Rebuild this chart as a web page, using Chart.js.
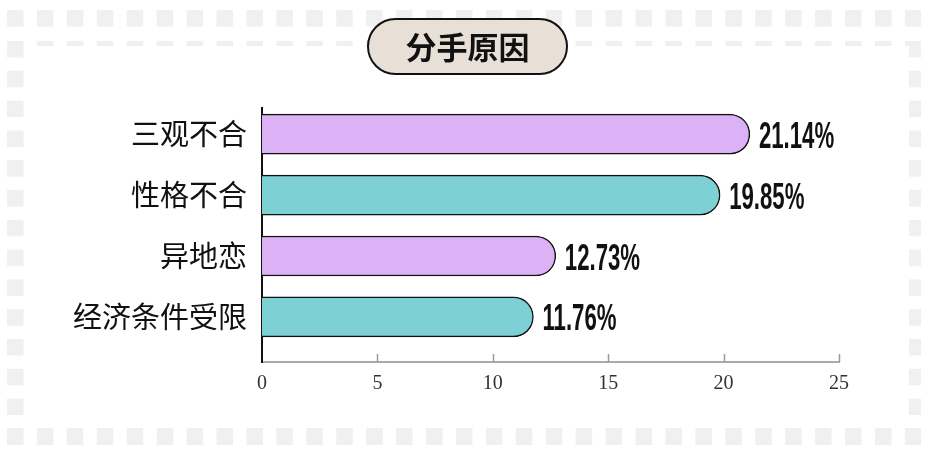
<!DOCTYPE html>
<html lang="zh">
<head>
  <meta charset="UTF-8" />
  <title>分手原因</title>
  <script src="https://cdn.jsdelivr.net/npm/chart.js"></script>
  <style>
    html, body { margin: 0; padding: 0; background: #fff; }
    .wrap { position: relative; width: 928px; height: 451px; overflow: hidden; }
    #chart { position: absolute; left: 0; top: 0; }
    .title {
      position: absolute;
      left: 367px; top: 18px;
      width: 201px; height: 57px;
      box-sizing: border-box;
      border: 2px solid #111;
      border-radius: 29px;
      background: #e8dfd7;
      color: #111;
      font-family: "Noto Sans CJK SC", sans-serif;
      font-weight: 700;
      font-size: 31px;
      line-height: 52px;
      text-align: center;
    }
  </style>
</head>
<body>
  <div class="wrap">
    <canvas id="chart" width="928" height="451"></canvas>
    <div class="title">分手原因</div>
  </div>

  <script>
    const categories = ['三观不合', '性格不合', '异地恋', '经济条件受限'];
    const shares = [21.14, 19.85, 12.73, 11.76];
    const xTicks = [0, 5, 10, 15, 20, 25];

    const purple = '#dcb1f5';
    const teal = '#7dd0d4';

    // grey dotted frame behind everything
    const frame = {
      id: 'frame',
      beforeDraw(chart) {
        const ctx = chart.ctx;
        ctx.save();
        ctx.fillStyle = '#f0f0f0';
        for (let k = 0; k < 31; k++) {
          const x = 7 + k * 29.93;
          const w = Math.min(16.5, 921 - x);
          ctx.fillRect(x, 10, w, 16.5);
          ctx.fillRect(x, 428, w, 17);
          if (k > 0) ctx.fillRect(x, 41, w, 5);
        }
        for (let j = 0; j < 13; j++) {
          const y = 41 + j * 29.8;
          ctx.fillRect(7, y, 16.5, 16.5);
          ctx.fillRect(909, y, 12, 16.5);
        }
        ctx.restore();
      }
    };

    // small tick marks pointing up from the x axis
    const upTicks = {
      id: 'upTicks',
      afterDraw(chart) {
        const ctx = chart.ctx;
        const sx = chart.scales.x;
        const bottom = chart.chartArea.bottom;
        ctx.save();
        ctx.strokeStyle = '#999';
        ctx.lineWidth = 1.5;
        xTicks.forEach(v => {
          if (v === 0) return;
          const px = Math.round(sx.getPixelForValue(v)) + 0.5;
          ctx.beginPath();
          ctx.moveTo(px, bottom);
          ctx.lineTo(px, bottom - 8);
          ctx.stroke();
        });
        ctx.restore();
      }
    };

    // percentage labels at the end of each bar
    const valueLabels = {
      id: 'valueLabels',
      afterDatasetsDraw(chart) {
        const ctx = chart.ctx;
        const meta = chart.getDatasetMeta(0);
        ctx.save();
        ctx.font = 'bold 37px "Liberation Sans", Arial, sans-serif';
        ctx.fillStyle = '#111';
        ctx.textBaseline = 'alphabetic';
        meta.data.forEach((bar, i) => {
          const text = shares[i].toFixed(2) + '%';
          ctx.save();
          ctx.translate(bar.x + 9, bar.y + 13.5);
          ctx.scale(0.6, 1);
          ctx.fillText(text, 0, 0);
          ctx.restore();
        });
        ctx.restore();
      }
    };

    new Chart(document.getElementById('chart'), {
      type: 'bar',
      data: {
        datasets: [{
          data: shares.map((v, i) => ({ x: v, y: i })),
          backgroundColor: c => (c.dataIndex % 2 ? teal : purple),
          borderColor: '#111',
          borderWidth: 1.5,
          borderSkipped: 'start',
          borderRadius: { topLeft: 0, bottomLeft: 0, topRight: 20, bottomRight: 20 },
          barThickness: 40
        }]
      },
      options: {
        indexAxis: 'y',
        responsive: false,
        animation: false,
        layout: { padding: { top: 108, right: 89, bottom: 0, left: 0 } },
        plugins: {
          legend: { display: false },
          tooltip: { enabled: false }
        },
        scales: {
          x: {
            type: 'linear',
            min: 0,
            max: 25,
            afterBuildTicks: s => { s.ticks = xTicks.map(v => ({ value: v })); },
            afterFit: s => { s.height = 89; },
            grid: { display: false },
            border: { display: true, color: '#aaa', width: 2 },
            ticks: {
              padding: 2,
              color: '#333',
              font: { family: '"Liberation Serif", "DejaVu Serif", serif', size: 20 }
            }
          },
          y: {
            type: 'linear',
            reverse: true,
            offset: false,
            min: -0.43,
            max: 3.74,
            afterBuildTicks: s => { s.ticks = categories.map((c, i) => ({ value: i })); },
            afterFit: s => { s.width = 262; },
            grid: { display: false, offset: false },
            border: { display: true, color: '#111', width: 2 },
            ticks: {
              padding: 7,
              color: '#111',
              callback: v => categories[v],
              font: { family: '"Noto Sans CJK SC", sans-serif', size: 29 }
            }
          }
        }
      },
      plugins: [frame, upTicks, valueLabels]
    });
  </script>
</body>
</html>
